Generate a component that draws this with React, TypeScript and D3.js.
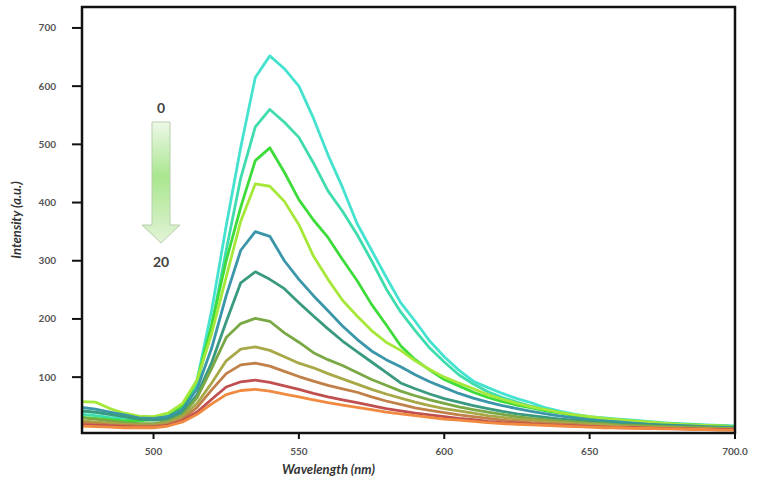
import * as d3 from "d3";

// emission wavelengths (nm), one reading every 5 nm
const wavelengths = [
  475, 480, 485, 490, 495, 500, 505, 510, 515, 520, 525, 530, 535, 540, 545, 550,
  555, 560, 565, 570, 575, 580, 585, 590, 595, 600, 605, 610, 615, 620, 625, 630,
  635, 640, 645, 650, 655, 660, 665, 670, 675, 680, 685, 690, 695, 700,
];

// intensity for each titration step, from 0 (strongest) down to 20
const s0 = [
  42, 39, 36, 33, 31, 30, 36, 48, 95, 215, 360, 495, 615, 652, 630, 600,
  545, 482, 426, 364, 318, 272, 228, 196, 162, 135, 112, 93, 82, 72, 63, 56,
  47, 41, 36, 32, 30, 28, 26, 24, 22, 20, 19, 18, 17, 16,
];
const s1 = [
  36, 34, 31, 29, 27, 28, 33, 46, 88, 188, 318, 442, 530, 560, 538, 512,
  468, 420, 385, 345, 300, 252, 212, 180, 150, 126, 104, 88, 75, 65, 57, 50,
  44, 39, 34, 31, 29, 27, 25, 23, 21, 20, 18, 17, 16, 15,
];
const s2 = [
  31, 29, 27, 25, 25, 27, 32, 50, 95, 190, 300, 392, 472, 494, 452, 405,
  370, 340, 302, 266, 225, 190, 154, 130, 112, 96, 85, 74, 65, 58, 52, 47,
  42, 38, 34, 31, 28, 26, 24, 22, 20, 19, 18, 17, 16, 15,
];
const s3 = [
  58, 57, 46, 38, 33, 32, 38, 55, 95, 175, 272, 368, 432, 428, 402, 362,
  308, 268, 232, 205, 180, 160, 146, 128, 113, 100, 90, 80, 70, 62, 55, 49,
  44, 39, 35, 32, 29, 27, 25, 23, 21, 19, 18, 17, 16, 15,
];
const s4 = [
  48, 45, 40, 35, 30, 29, 32, 45, 80, 150, 240, 318, 350, 342, 300, 268,
  240, 214, 188, 165, 145, 130, 118, 104, 92, 82, 72, 64, 57, 51, 46, 41,
  37, 33, 30, 27, 25, 23, 21, 19, 18, 17, 16, 15, 14, 14,
];
const s5 = [
  42, 40, 36, 32, 28, 26, 28, 40, 70, 125, 195, 262, 281, 268, 252, 228,
  205, 183, 162, 144, 126, 108, 90, 80, 71, 63, 57, 51, 46, 41, 37, 34,
  31, 28, 26, 24, 22, 20, 19, 18, 17, 16, 15, 14, 13, 13,
];
const s6 = [
  30, 28, 25, 22, 20, 20, 24, 35, 65, 115, 168, 192, 201, 196, 176, 160,
  142, 130, 120, 108, 96, 86, 76, 68, 61, 55, 49, 44, 40, 36, 32, 29,
  27, 25, 23, 21, 20, 18, 17, 16, 15, 14, 14, 13, 12, 12,
];
const s7 = [
  25, 23, 21, 19, 18, 18, 22, 32, 55, 90, 128, 148, 152, 146, 135, 124,
  116, 106, 97, 88, 79, 71, 64, 57, 51, 46, 42, 38, 34, 31, 28, 26,
  24, 22, 20, 19, 18, 16, 15, 14, 14, 13, 12, 12, 11, 11,
];
const s8 = [
  22, 20, 18, 17, 16, 16, 19, 28, 48, 78, 106, 121, 124, 119, 110, 101,
  93, 86, 80, 74, 66, 59, 53, 47, 43, 39, 35, 32, 29, 26, 24, 22,
  20, 19, 18, 16, 15, 14, 14, 13, 12, 12, 11, 11, 10, 10,
];
const s9 = [
  18, 17, 16, 15, 14, 14, 17, 25, 40, 62, 83, 92, 95, 91, 85, 79,
  72, 66, 61, 56, 51, 46, 42, 38, 35, 32, 29, 27, 24, 22, 21, 19,
  18, 17, 16, 15, 14, 13, 13, 12, 12, 11, 11, 10, 10, 10,
];
const s10 = [
  16, 15, 14, 13, 13, 13, 16, 23, 36, 54, 70, 77, 79, 76, 71, 66,
  61, 56, 52, 48, 44, 40, 37, 34, 31, 28, 26, 24, 22, 20, 19, 18,
  17, 16, 15, 14, 13, 13, 12, 12, 11, 11, 10, 10, 9, 9,
];

const spectra = [s0, s1, s2, s3, s4, s5, s6, s7, s8, s9, s10];
const colors = [
  "#45e3cf", "#3fdcae", "#3ddc3a", "#a6e83a", "#3a96a8", "#3a9a80",
  "#7aa845", "#a8a848", "#c08048", "#c05050", "#f08a40",
];

const yTicks = [100, 200, 300, 400, 500, 600, 700];
const xTicks = [500, 550, 600, 650, 700];
const xTickLabels = ["500", "550", "600", "650", "700.0"];

const width = 757;
const height = 480;
const left = 82;
const right = 735;
const top = 7;
const bottom = 433;

const font = "Lato, 'Open Sans', sans-serif";

export default function App() {
  const x = d3.scaleLinear().domain([475.4, 700]).range([left, right]);
  const y = d3.scaleLinear().domain([4, 736]).range([bottom, top]);

  const line = d3
    .line<number>()
    .x((_, i) => x(wavelengths[i]))
    .y((d) => y(d));

  return (
    <svg
      width={width}
      height={height}
      style={{ position: "absolute", left: 0, top: 0, background: "#fff" }}
    >
      <defs>
        <clipPath id="plot">
          <rect x={left} y={top} width={right - left} height={bottom - top} />
        </clipPath>
        <linearGradient id="arrowFill" x1="0" y1="0" x2="0" y2="1">
          <stop offset="0" stopColor="#eef8e8" />
          <stop offset="0.45" stopColor="#a9e68f" />
          <stop offset="1" stopColor="#e2f4d6" />
        </linearGradient>
      </defs>

      <g clipPath="url(#plot)" fill="none" strokeWidth={2.8} strokeLinejoin="round">
        {spectra.map((s, i) => (
          <path key={i} d={line(s) ?? ""} stroke={colors[i]} />
        ))}
      </g>

      {/* frame */}
      <rect
        x={left}
        y={top}
        width={right - left}
        height={bottom - top}
        fill="none"
        stroke="#111"
        strokeWidth={2.5}
      />

      {/* y axis */}
      {yTicks.map((t) => (
        <g key={t}>
          <line x1={left - 10} x2={left} y1={y(t)} y2={y(t)} stroke="#111" strokeWidth={2} />
          <text
            x={56}
            y={y(t)}
            dy="0.35em"
            textAnchor="end"
            fontSize={10}
            fontWeight={700}
            fontFamily={font}
            fill="#555"
          >
            {t}
          </text>
        </g>
      ))}

      {/* x axis */}
      {xTicks.map((t, i) => (
        <g key={t}>
          <line x1={x(t)} x2={x(t)} y1={bottom} y2={bottom + 6} stroke="#111" strokeWidth={2} />
          <text
            x={x(t)}
            y={455}
            textAnchor="middle"
            fontSize={10}
            fontWeight={700}
            fontFamily={font}
            fill="#555"
          >
            {xTickLabels[i]}
          </text>
        </g>
      ))}

      <text
        x={(left + right) / 2 - 80}
        y={474}
        textAnchor="middle"
        fontSize={13}
        fontStyle="italic"
        fontWeight={700}
        fontFamily={font}
        fill="#333"
      >
        Wavelength (nm)
      </text>
      <text
        transform={`translate(21,${(top + bottom) / 2}) rotate(-90)`}
        textAnchor="middle"
        fontSize={13}
        fontStyle="italic"
        fontWeight={700}
        fontFamily={font}
        fill="#333"
      >
        Intensity (a.u.)
      </text>

      {/* titration arrow 0 → 20 */}
      <path
        d="M152,122 L170,122 L170,225 L180,225 L161,243 L142,225 L152,225 Z"
        fill="url(#arrowFill)"
        stroke="#b7cfae"
        strokeWidth={1}
      />
      <text x={161} y={113} textAnchor="middle" fontSize={14} fontWeight={700} fontFamily={font} fill="#444">
        0
      </text>
      <text x={161} y={267} textAnchor="middle" fontSize={14} fontWeight={700} fontFamily={font} fill="#444">
        20
      </text>
    </svg>
  );
}
